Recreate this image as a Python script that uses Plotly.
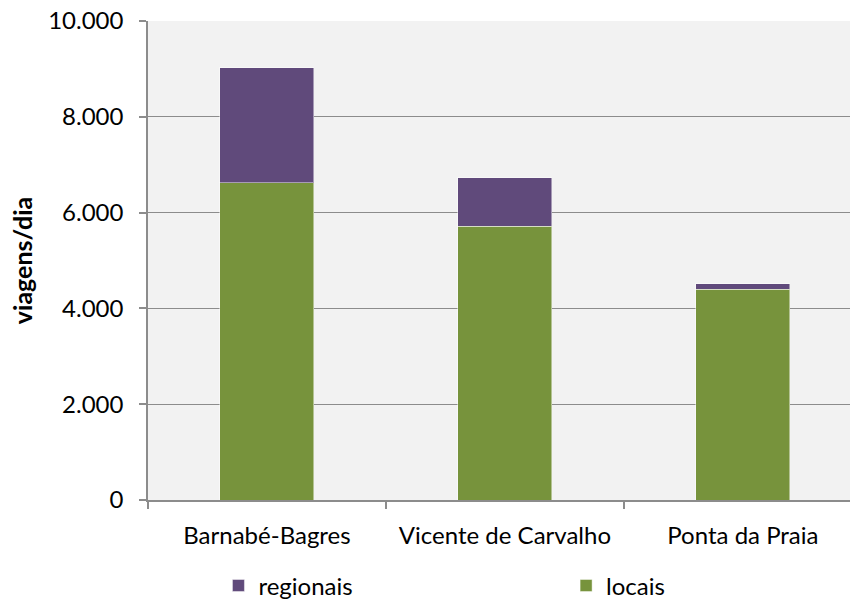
import plotly.graph_objects as go

# Daily trips per ferry crossing, split into local and regional demand
categories = ["Barnabé-Bagres", "Vicente de Carvalho", "Ponta da Praia"]
locais = [6620, 5720, 4405]
regionais = [2400, 1010, 110]

y_ticks = [0, 2000, 4000, 6000, 8000, 10000]
y_tick_labels = ["0", "2.000", "4.000", "6.000", "8.000", "10.000"]

FONT = "Lato"
SIZE = 24
GREEN = "#77933C"
PURPLE = "#604A7B"
GRID = "#8C8C8C"

fig = go.Figure()
fig.add_trace(go.Bar(
    x=categories, y=locais, name="locais",
    marker=dict(color=GREEN, line=dict(color="rgba(255,255,255,0.45)", width=1)),
    legend="legend2",
))
fig.add_trace(go.Bar(
    x=categories, y=regionais, name="regionais",
    marker=dict(color=PURPLE, line=dict(color="rgba(255,255,255,0.45)", width=1)),
    legend="legend",
))

# Each series gets its own legend box so the two entries sit far apart
legend_style = dict(
    orientation="h", xref="container", yref="container",
    yanchor="middle", xanchor="left", y=0.03,
    font=dict(family=FONT, size=SIZE, color="#000000"),
    bgcolor="rgba(0,0,0,0)", itemwidth=30,
)

fig.update_layout(
    width=850, height=604,
    margin=dict(l=148, r=0, t=21, b=104),
    paper_bgcolor="#FFFFFF",
    plot_bgcolor="#F2F2F2",
    barmode="stack",
    bargap=0.605,
    font=dict(family=FONT, size=SIZE, color="#000000"),
    legend=dict(x=0.257, **legend_style),
    legend2=dict(x=0.666, **legend_style),
    showlegend=True,
)

fig.update_xaxes(
    range=[-0.5, 2.45],
    showline=True, linecolor=GRID, linewidth=1.5,
    ticks="outside", tickson="boundaries", ticklen=7, tickcolor=GRID, tickwidth=1.5,
    showgrid=False,
    tickfont=dict(family=FONT, size=SIZE, color="#000000"),
    ticklabelstandoff=13,
)

fig.update_yaxes(
    range=[0, 10000],
    tickvals=y_ticks, ticktext=y_tick_labels,
    showline=True, linecolor=GRID, linewidth=1.5,
    ticks="outside", ticklen=7, tickcolor=GRID, tickwidth=1.5,
    showgrid=True, gridcolor=GRID, gridwidth=1.3,
    zeroline=False,
    tickfont=dict(family=FONT, size=SIZE, color="#000000"),
    ticklabelstandoff=11,
    title=dict(text="<b>viagens/dia</b>", font=dict(family=FONT, size=25, color="#000000"), standoff=8),
)

fig.write_html("out.html")
